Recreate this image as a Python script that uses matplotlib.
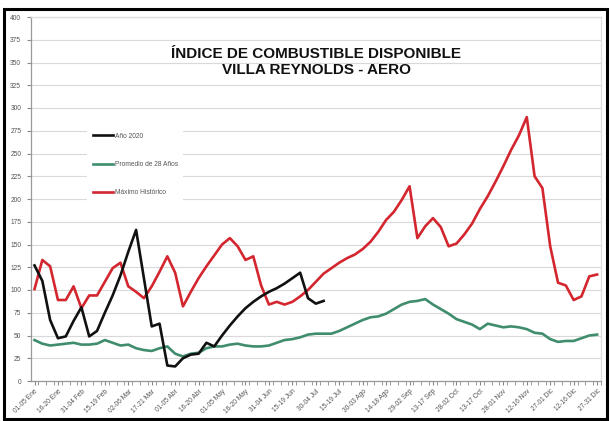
import matplotlib
matplotlib.use("Agg")
import matplotlib.pyplot as plt
from matplotlib.patches import Rectangle
from matplotlib.ticker import MultipleLocator, FixedLocator

plt.rcParams['font.family'] = ['Liberation Sans', 'DejaVu Sans']

# ---- data ----
x_labels = ["01-05 Ene", "16-20 Ene", "31-04 Feb", "15-19 Feb", "02-06 Mar", "17-21 Mar",
            "01-05 Abr", "16-20 Abr", "01-05 May", "16-20 May", "31-04 Jun", "15-19 Jun",
            "30-04 Jul", "15-19 Jul", "30-03 Ago", "14-18 Ago", "29-02 Sep", "13-17 Sep",
            "28-02 Oct", "13-17 Oct", "28-01 Nov", "12-16 Nov", "27-01 Dic", "12-16 Dic",
            "27-31 Dic"]

anio_2020 = [127, 110, 67, 47, 49, 66, 81, 49, 55, 75, 94, 116, 142, 166, 113, 60, 63, 17, 16,
             25, 29, 30, 42, 38, 50, 61, 71, 80, 87, 93, 98, 102, 107, 113, 119, 91, 85, 88]

promedio = [45, 41, 39, 40, 41, 42, 40, 40, 41, 45, 42, 39, 40, 36, 34, 33, 36, 38, 30, 27,
            30, 31, 36, 38, 38, 40, 41, 39, 38, 38, 39, 42, 45, 46, 48, 51, 52, 52, 52, 55,
            59, 63, 67, 70, 71, 74, 79, 84, 87, 88, 90, 84, 79, 74, 68, 65, 62, 57, 63, 61,
            59, 60, 59, 57, 53, 52, 46, 43, 44, 44, 47, 50, 51]

maximo = [101, 133, 126, 89, 89, 104, 80, 94, 94, 109, 124, 130, 104, 98, 91, 104, 120, 137,
          119, 82, 98, 113, 126, 138, 150, 157, 148, 133, 137, 105, 84, 87, 84, 87, 93, 100,
          109, 118, 124, 130, 135, 139, 145, 153, 164, 177, 186, 199, 214, 157, 170, 179,
          169, 148, 151, 161, 173, 189, 203, 219, 236, 254, 270, 290, 225, 212, 148, 108,
          105, 89, 93, 115, 117]

series_names = ["Año 2020", "Promedio de 28 Años", "Máximo Histórico"]
title_text = "ÍNDICE DE COMBUSTIBLE DISPONIBLE\nVILLA REYNOLDS - AERO"

# ---- figure ----
fig = plt.figure(figsize=(6.10, 4.21), dpi=100)
fig.patch.set_facecolor('white')
W, H = 610, 421
ax = fig.add_axes([31 / W, 1 - 381 / H, (601 - 31) / W, (381 - 17) / H])

xb = list(range(len(anio_2020)))
xg = list(range(len(promedio)))
xr = list(range(len(maximo)))

ax.plot(xb, anio_2020, color='#111111', lw=1.9, label=series_names[0], zorder=4)
ax.plot(xg, promedio, color='#3f8d6c', lw=1.9, label=series_names[1], zorder=3)
ax.plot(xr, maximo, color='#d3262e', lw=1.9, label=series_names[2], zorder=3)

ax.set_xlim(-0.45, 72.5)
ax.set_ylim(0, 400)
ax.yaxis.set_major_locator(MultipleLocator(25))
ax.grid(axis='y', color='#d9d9d9', lw=0.8)
ax.set_axisbelow(True)

ax.set_xticks(list(range(0, len(maximo), 3)))
ax.set_xticklabels(x_labels, rotation=45, ha='right', rotation_mode='anchor',
                   fontsize=4.8, color='#555555')
ax.xaxis.set_minor_locator(FixedLocator([i - 0.5 for i in range(len(maximo) + 1)]))
ax.tick_params(axis='x', which='major', length=3, color='#888888', pad=2)
ax.tick_params(axis='x', which='minor', length=3, color='#888888')
ax.tick_params(axis='y', labelsize=4.8, labelcolor='#555555', length=3, color='#888888', pad=4)

for s in ['left', 'bottom']:
    ax.spines[s].set_color('#999999')
    ax.spines[s].set_linewidth(0.9)
for s in ['top', 'right']:
    ax.spines[s].set_color('#dddddd')
    ax.spines[s].set_linewidth(0.9)

ax.text(0.5, 0.917, title_text, transform=ax.transAxes, ha='center', va='top',
        fontsize=11, fontweight='bold', color='#111111', linespacing=1.15)

leg = ax.legend(loc='upper left', bbox_to_anchor=((84 - 31) / 570, (381 - 124) / 364),
                fontsize=4.8, frameon=True, labelspacing=3.2, handlelength=3.0,
                handletextpad=0.3, borderpad=0.8, fancybox=False)
leg.get_frame().set_facecolor('white')
leg.get_frame().set_edgecolor('none')
leg.get_frame().set_alpha(1)
for t in leg.get_texts():
    t.set_color('#555555')

# outer black frame
fig.patches.append(Rectangle((4 / W, 1 - 419 / H), (607 - 4) / W, (419 - 9) / H,
                             transform=fig.transFigure, fill=False, edgecolor='black',
                             lw=2.2, zorder=10))

fig.savefig("out.png", dpi=100, facecolor='white')
